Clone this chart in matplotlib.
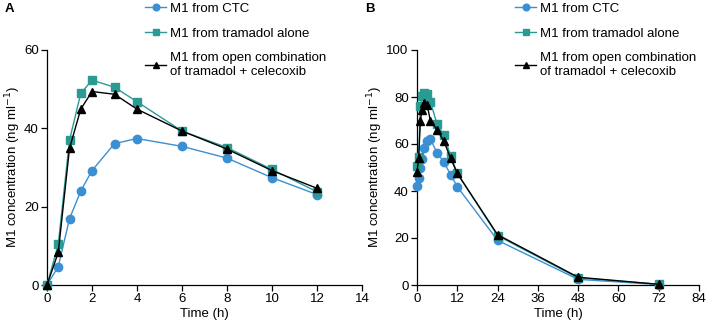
import matplotlib
matplotlib.use("Agg")
import matplotlib.pyplot as plt

plt.rcParams['font.family'] = ['Liberation Sans', 'DejaVu Sans']

labels = ["M1 from CTC", "M1 from tramadol alone",
          "M1 from open combination\nof tramadol + celecoxib"]

# Panel A
time_a = [0, 0.5, 1, 1.5, 2, 3, 4, 6, 8, 10, 12]
ctc_a = [0, 4.7, 16.9, 24.0, 29.2, 36.1, 37.4, 35.4, 32.4, 27.4, 23.1]
tram_a = [0, 10.4, 37.0, 48.9, 52.3, 50.5, 46.8, 39.3, 35.1, 29.5, 23.8]
comb_a = [0, 8.3, 34.9, 44.9, 49.4, 48.7, 44.9, 39.3, 34.7, 29.2, 24.7]

# Panel B
time_b = [0, 0.5, 1, 1.5, 2, 3, 4, 6, 8, 10, 12, 24, 48, 72]
ctc_b = [42.3, 45.5, 49.8, 53.5, 58.2, 61.2, 62.0, 56.2, 52.3, 47.0, 41.8, 19.0, 2.4, 0.2]
tram_b = [50.8, 54.5, 76.0, 80.5, 81.7, 81.2, 77.7, 68.5, 63.8, 55.0, 47.5, 21.0, 3.0, 0.3]
comb_b = [48.0, 54.0, 70.0, 74.5, 77.5, 76.5, 70.0, 66.0, 61.2, 54.0, 47.5, 21.4, 3.3, 0.3]

xticks_a = [0, 2, 4, 6, 8, 10, 12, 14]
yticks_a = [0, 20, 40, 60]
xticks_b = [0, 12, 24, 36, 48, 60, 72, 84]
yticks_b = [0, 20, 40, 60, 80, 100]

c_ctc = '#3b8fd3'
c_tram = '#2b9a93'
c_comb = '#000000'

FS = 9.5

fig = plt.figure(figsize=(7.09, 3.27), dpi=100)
axA = fig.add_axes([47/709, 1-285/327, (362-47)/709, (285-50)/327])
axB = fig.add_axes([417/709, 1-285/327, (699-417)/709, (285-50)/327])

def draw(ax, t, c1, c2, c3, xt, yt):
    l1, = ax.plot(t, c1, color=c_ctc, marker='o', ms=6, lw=1.0, clip_on=False, zorder=3)
    l2, = ax.plot(t, c2, color=c_tram, marker='s', ms=5.5, lw=1.0, clip_on=False, zorder=4)
    l3, = ax.plot(t, c3, color=c_comb, marker='^', ms=6, lw=1.0, clip_on=False, zorder=5)
    ax.set_xlim(xt[0], xt[-1])
    ax.set_ylim(yt[0], yt[-1])
    ax.set_xticks(xt)
    ax.set_yticks(yt)
    for s in ['top', 'right']:
        ax.spines[s].set_visible(False)
    for s in ['left', 'bottom']:
        ax.spines[s].set_linewidth(0.9)
    ax.tick_params(direction='out', length=4, width=0.9, labelsize=FS, pad=2)
    ax.set_xlabel('Time (h)', fontsize=FS, labelpad=2)
    ax.set_ylabel('M1 concentration (ng ml$^{-1}$)', fontsize=FS, labelpad=1)
    return [l1, l2, l3]

hA = draw(axA, time_a, ctc_a, tram_a, comb_a, xticks_a, yticks_a)
hB = draw(axB, time_b, ctc_b, tram_b, comb_b, xticks_b, yticks_b)

for ax, handles, x0 in [(axA, hA, 145/709), (axB, hB, 515/709)]:
    fig.legend(handles, labels, loc='upper left', bbox_to_anchor=(x0, 1 - 2.5/327),
               frameon=False, fontsize=FS, handlelength=1.6, handletextpad=0.3,
               labelspacing=0.95, borderaxespad=0.0, borderpad=0.0,
               markerscale=0.8)

fig.text(5/709, 1-3/327, 'A', fontsize=FS, fontweight='bold', va='top', ha='left')
fig.text(365/709, 1-3/327, 'B', fontsize=FS, fontweight='bold', va='top', ha='left')

fig.savefig('out.png', dpi=100)
